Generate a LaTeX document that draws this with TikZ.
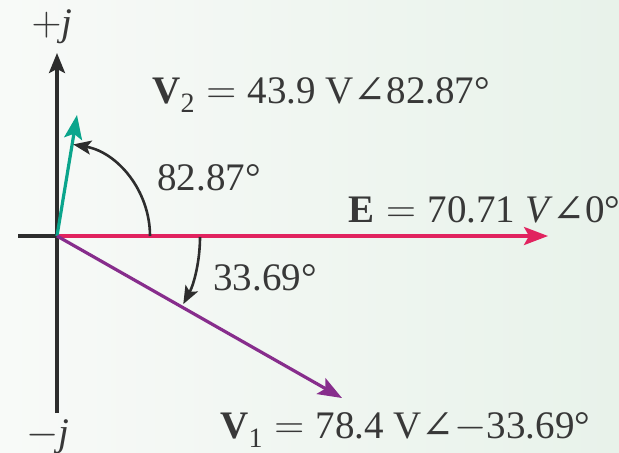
\documentclass[tikz,border=0pt]{standalone}
\usepackage{fontspec}
\setmainfont{Liberation Serif}
\newfontfamily\symfont{DejaVu Serif}
\usetikzlibrary{arrows.meta}
\definecolor{bgleft}{RGB}{248,250,248}
\definecolor{bgright}{RGB}{232,242,234}
\definecolor{axisgray}{RGB}{45,45,45}
\definecolor{ecol}{RGB}{225,35,95}
\definecolor{vtwocol}{RGB}{10,165,140}
\definecolor{vonecol}{RGB}{135,45,140}
\newcommand{\vsub}[1]{\raisebox{-0.55ex}{\fontsize{14}{14}\selectfont #1}}
\newcommand{\eqsign}{\hspace{0.3em}$=$\hspace{0.3em}}
\newcommand{\phang}{{\symfont ∠}}
\tikzset{
  axis/.style     = {line width=1.6pt, axisgray},
  phasor/.style   = {line width=1.6pt, -{Stealth[length=12pt,width=9pt,inset=2.5pt]}},
  anglearc/.style = {line width=1.3pt, axisgray, -{Stealth[length=9pt,width=7pt,inset=2pt]}},
  lbl/.style      = {inner sep=0pt, text=black!78, font=\fontsize{19.5}{21}\selectfont},
}

\begin{document}
\begin{tikzpicture}[x=0.5pt, y=0.5pt]

  \fill[left color=bgleft, right color=bgright] (-57,-216) rectangle (562,236);
  \useasboundingbox (-57,-216) rectangle (562,236);

  \coordinate (O)    at (0,0);
  \coordinate (xneg) at (-39,0);
  \coordinate (ytop) at (0,183);
  \coordinate (ybot) at (0,-177);
  \coordinate (Etip)  at (491,0);
  \coordinate (Vtwo)  at (20,121);
  \coordinate (Vone)  at (285,-162);

  % axes
  \draw[axis] (xneg) -- (O);
  \draw[axis, -{Stealth[length=10pt,width=8pt,inset=2pt]}] (ybot) -- (ytop);

  % phasors
  \draw[phasor, ecol]    (O) -- (Etip);
  \draw[phasor, vtwocol] (O) -- (Vtwo);
  \draw[phasor, vonecol] (O) -- (Vone);

  % angle arcs
  \coordinate (arctwo) at (93,0);
  \coordinate (arcone) at (143,-1);
  \draw[anglearc] (arctwo) arc[start angle=0, end angle=80, radius=46.5pt];
  \draw[anglearc] (arcone) arc[start angle=0, end angle=-28, radius=71.5pt];

  % labels
  \node[lbl] (pj) at (-5,209) {$+$\textit{j}};
  \node[lbl] (mj) at (-9,-201) {$-$\textit{j}};
  \node[lbl, anchor=base west] (vtwolbl) at (95,133)
    {\textbf{V}\vsub{2}\eqsign 43.9 V\phang 82.87°};
  \node[lbl, anchor=base west] (angtwo) at (100,46) {82.87°};
  \node[lbl, anchor=base west] (elbl) at (291,14)
    {\textbf{E}\eqsign 70.71 \textit{V}\phang 0°};
  \node[lbl, anchor=base west] (angone) at (156,-54) {33.69°};
  \node[lbl, anchor=base west] (vonelbl) at (163,-202)
    {\textbf{V}\vsub{1}\eqsign 78.4 V\phang$-$33.69°};

\end{tikzpicture}
\end{document}
